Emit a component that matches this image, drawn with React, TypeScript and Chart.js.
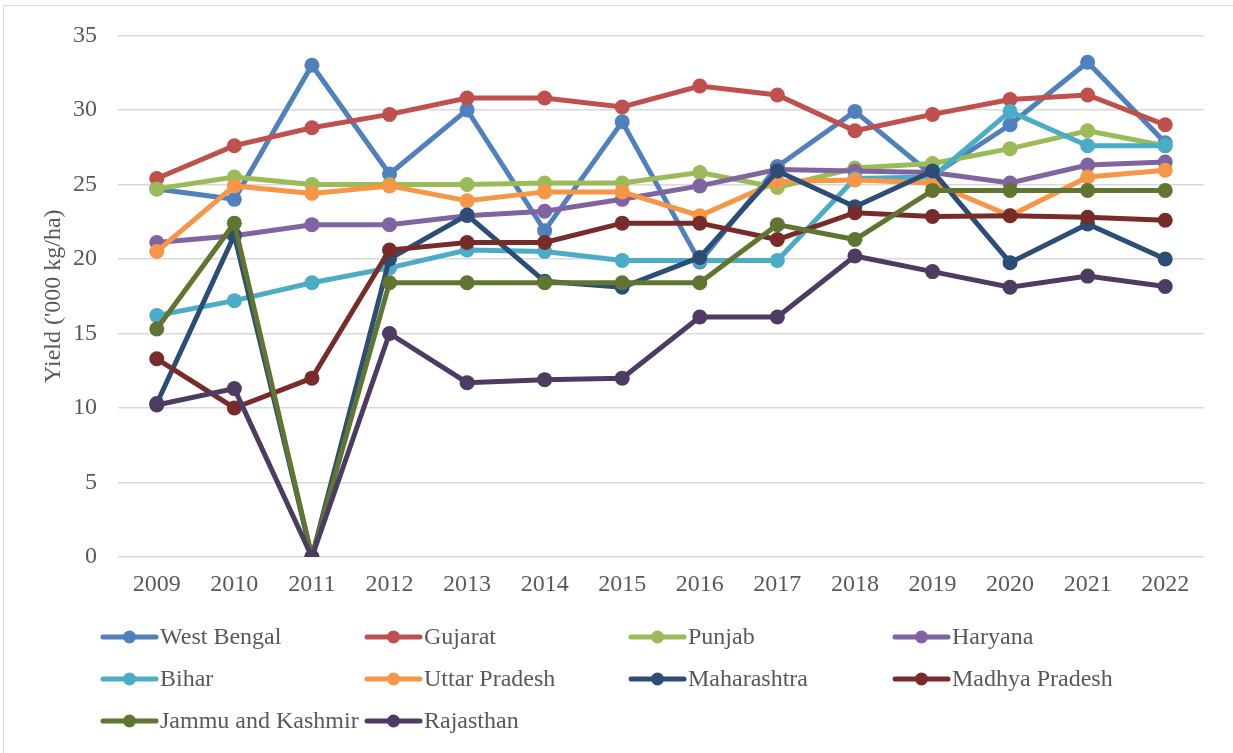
import React, { useEffect, useRef } from "react";
import { Chart, registerables } from "chart.js";

Chart.register(...registerables);

const years = ["2009", "2010", "2011", "2012", "2013", "2014", "2015", "2016", "2017", "2018", "2019", "2020", "2021", "2022"];

const westBengal = [24.7, 24.0, 33.0, 25.7, 30.0, 21.9, 29.2, 19.8, 26.2, 29.9, 25.6, 29.0, 33.2, 27.8];
const gujarat = [25.4, 27.6, 28.8, 29.7, 30.8, 30.8, 30.2, 31.6, 31.0, 28.6, 29.7, 30.7, 31.0, 29.0];
const punjab = [24.7, 25.5, 25.0, 25.0, 25.0, 25.1, 25.1, 25.8, 24.8, 26.1, 26.4, 27.4, 28.6, 27.6];
const haryana = [21.1, 21.55, 22.3, 22.3, 22.9, 23.2, 24.0, 24.9, 26.0, 25.9, 25.8, 25.1, 26.3, 26.5];
const bihar = [16.2, 17.2, 18.4, 19.4, 20.6, 20.5, 19.9, 19.9, 19.9, 25.4, 25.5, 29.9, 27.6, 27.6];
const uttarPradesh = [20.5, 24.9, 24.4, 24.9, 23.9, 24.5, 24.5, 22.9, 25.2, 25.3, 25.1, 22.9, 25.5, 25.95];
const maharashtra = [10.3, 21.6, 0, 20.0, 22.95, 18.5, 18.1, 20.1, 25.9, 23.5, 25.9, 19.75, 22.35, 20.0];
const madhyaPradesh = [13.3, 10.0, 12.0, 20.6, 21.1, 21.1, 22.4, 22.4, 21.3, 23.1, 22.85, 22.9, 22.8, 22.6];
const jammuKashmir = [15.3, 22.4, 0, 18.4, 18.4, 18.4, 18.4, 18.4, 22.3, 21.3, 24.6, 24.6, 24.6, 24.6];
const rajasthan = [10.2, 11.3, 0, 15.0, 11.7, 11.9, 12.0, 16.1, 16.1, 20.2, 19.15, 18.1, 18.85, 18.15];

const seriesNames = ["West Bengal", "Gujarat", "Punjab", "Haryana", "Bihar", "Uttar Pradesh", "Maharashtra", "Madhya Pradesh", "Jammu and Kashmir", "Rajasthan"];
const seriesValues = [westBengal, gujarat, punjab, haryana, bihar, uttarPradesh, maharashtra, madhyaPradesh, jammuKashmir, rajasthan];
const seriesColors = ["#4F81BD", "#C0504D", "#9BBB59", "#8064A2", "#4BACC6", "#F79646", "#2C4D75", "#772C2A", "#5F7530", "#4D3B62"];

const yTicks = [0, 5, 10, 15, 20, 25, 30, 35];
const yTitle = "Yield ('000 kg/ha)";

const FONT = '"Liberation Serif", "Times New Roman", serif';
const TEXT_COLOR = "#595959";

const LEGEND_X0 = 101;
const LEGEND_COL_W = 264;
const LEGEND_Y0 = 637;
const LEGEND_ROW_H = 42;

const legendPlugin = {
  id: "customLegend",
  afterDraw(chart: any) {
    const ctx = chart.ctx;
    chart.data.datasets.forEach((ds: any, i: number) => {
      const col = i % 4;
      const row = Math.floor(i / 4);
      const x = LEGEND_X0 + col * LEGEND_COL_W;
      const y = LEGEND_Y0 + row * LEGEND_ROW_H;
      ctx.save();
      ctx.strokeStyle = ds.borderColor;
      ctx.lineWidth = 5;
      ctx.lineCap = "round";
      ctx.beginPath();
      ctx.moveTo(x + 2, y);
      ctx.lineTo(x + 55, y);
      ctx.stroke();
      ctx.fillStyle = ds.backgroundColor;
      ctx.beginPath();
      ctx.arc(x + 28.5, y, 6.5, 0, Math.PI * 2);
      ctx.fill();
      ctx.fillStyle = TEXT_COLOR;
      ctx.font = `24px ${FONT}`;
      ctx.textBaseline = "middle";
      ctx.textAlign = "left";
      ctx.fillText(ds.label, x + 59, y + 1);
      ctx.restore();
    });
  },
};

export default function App() {
  const canvasRef = useRef<HTMLCanvasElement | null>(null);

  useEffect(() => {
    if (!canvasRef.current) return;
    const n = seriesNames.length;
    const chart = new Chart(canvasRef.current, {
      type: "line",
      data: {
        labels: years,
        datasets: seriesNames.map((name, i) => ({
          label: name,
          data: seriesValues[i],
          borderColor: seriesColors[i],
          backgroundColor: seriesColors[i],
          pointBackgroundColor: seriesColors[i],
          pointBorderColor: seriesColors[i],
          borderWidth: 5,
          pointRadius: 7.5,
          pointBorderWidth: 0,
          tension: 0,
          order: n - i,
        })),
      },
      options: {
        animation: false,
        responsive: false,
        devicePixelRatio: 1,
        layout: { padding: { left: 0, top: 34, right: 29, bottom: 136 } },
        plugins: {
          legend: { display: false },
          tooltip: { enabled: false },
          title: { display: false },
        },
        scales: {
          x: {
            offset: true,
            grid: { display: false, drawTicks: false },
            border: { display: false },
            ticks: { color: TEXT_COLOR, font: { family: FONT, size: 24 }, padding: 13, maxRotation: 0, autoSkip: false },
            afterFit: (scale: any) => {
              scale.height = 60;
            },
          },
          y: {
            min: 0,
            max: 35,
            afterBuildTicks: (scale: any) => {
              scale.ticks = yTicks.map((v) => ({ value: v }));
            },
            grid: { color: "#d9d9d9", lineWidth: 1.5, drawTicks: false },
            border: { display: false },
            ticks: { color: TEXT_COLOR, font: { family: FONT, size: 24 }, padding: 21 },
            title: {
              display: true,
              text: yTitle,
              color: TEXT_COLOR,
              font: { family: FONT, size: 24, weight: "normal" },
              padding: { top: 39, bottom: 0 },
            },
            afterFit: (scale: any) => {
              scale.width = 118;
            },
          },
        },
      },
      plugins: [legendPlugin],
    });
    return () => chart.destroy();
  }, []);

  return (
    <div style={{ position: "fixed", left: 0, top: 0, width: 1233, height: 753, background: "#ffffff", overflow: "hidden" }}>
      <div
        style={{
          position: "absolute",
          left: 3,
          top: 5,
          width: 1260,
          height: 780,
          border: "1.5px solid #d9d9d9",
        }}
      />
      <canvas ref={canvasRef} width={1233} height={753} style={{ position: "absolute", left: 0, top: 0, width: 1233, height: 753 }} />
    </div>
  );
}
